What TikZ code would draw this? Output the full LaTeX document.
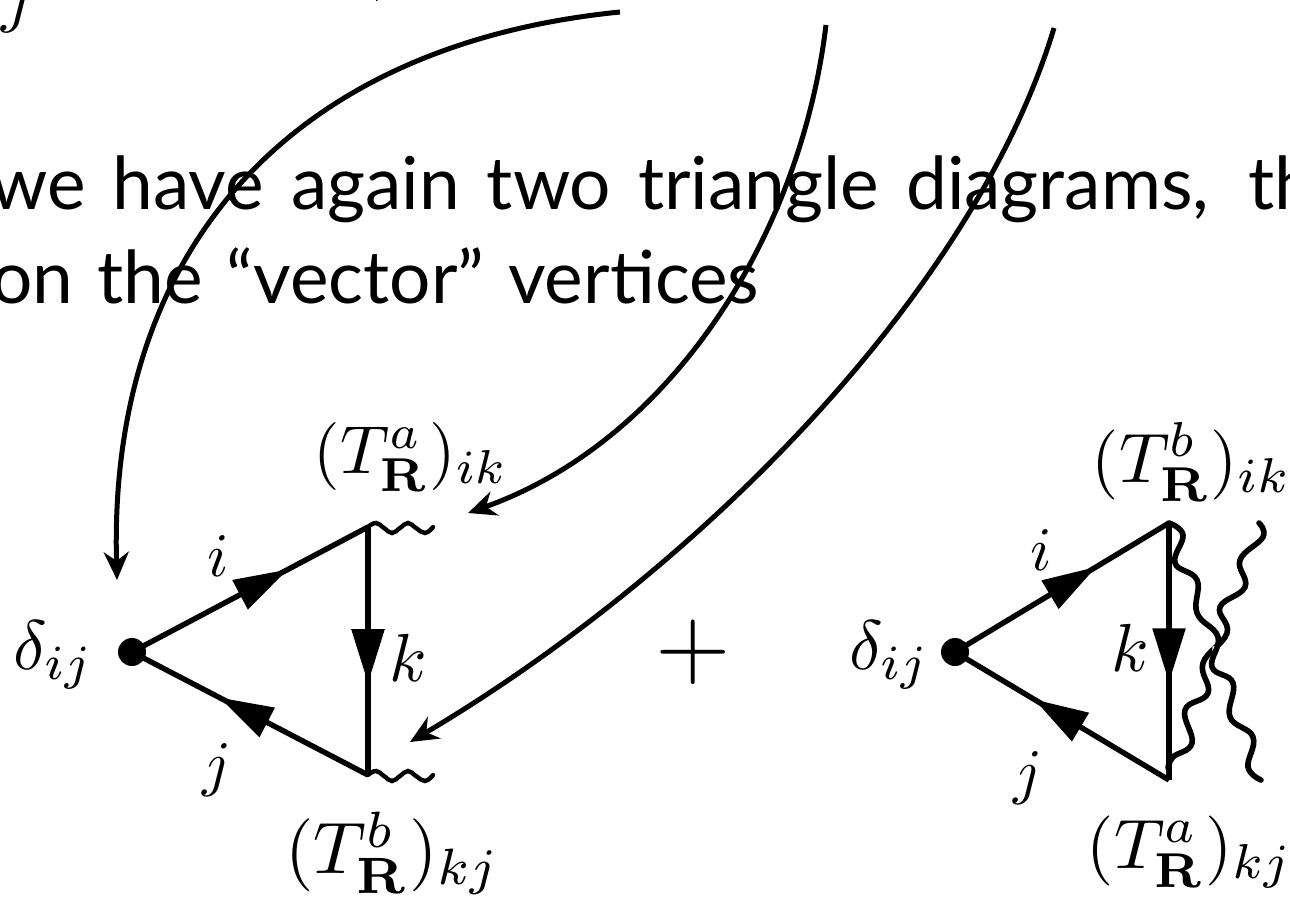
\documentclass[tikz,border=0pt]{standalone}
\usepackage[no-math]{fontspec}
\usepackage{amsmath}
\setmainfont{Lato}
\usetikzlibrary{arrows.meta,decorations.markings}
\tikzset{
 x=1pt,y=-1pt,
 edgeline/.style={line width=5.4pt,line join=round},
 wavyline/.style={line width=4.4pt,line cap=round},
 wavybig/.style={line width=5.6pt,line cap=round},
 pointer/.style={line width=5pt,-{Stealth[length=28pt,width=25pt,inset=9pt]}},
 flowhead/.style={postaction={decorate,decoration={markings,mark=at position #1 with {\arrow{Triangle[length=54pt,width=32pt]}}}}},
 lab/.style={inner sep=0pt,transform shape,scale=#1},
 bodytext/.style={inner sep=0pt,anchor=base west,font=\fontsize{73}{90}\selectfont}
}
\begin{document}
\begin{tikzpicture}
\useasboundingbox (0,0) rectangle (1290,901);
\clip (0,0) rectangle (1290,901);
% text
\node[bodytext] (line1) at (-10,210) {\spaceskip=27pt we have again two triangle diagrams,\hspace{12pt} the};
\node[bodytext] (line2) at (-9,303) {\spaceskip=24pt on the “vector” vertices};
\node[lab=6.8,anchor=base] (topj) at (17,20) {$j$};
\node[lab=6.8,anchor=base] (topc) at (379,-11) {$,$};
% coordinates
\node[circle,fill=black,inner sep=0pt,minimum size=28pt] (dl) at (132,652) {};
\coordinate (tl) at (368,527);
\coordinate (bl) at (368,775);
\node[circle,fill=black,inner sep=0pt,minimum size=28pt] (dr) at (955,652) {};
\coordinate (tr) at (1169,523);
\coordinate (br) at (1169,780);
% left triangle
\draw[edgeline,flowhead=0.66] (dl.center) -- (tl);
\draw[edgeline,flowhead=0.63] (tl) -- (bl);
\draw[edgeline,flowhead=0.63] (bl) -- (dl.center);
\draw[wavyline] plot[smooth,tension=0.8] coordinates {(368,527) (376,523) (384,528) (392,533) (400,528) (408,523) (416,528) (425,533) (433,527)};
\draw[wavyline] plot[smooth,tension=0.8] coordinates {(368,775) (376,771) (384,776) (392,781) (400,776) (408,771) (416,776) (425,781) (433,775)};
% right triangle
\draw[edgeline,flowhead=0.66] (dr.center) -- (tr);
\draw[edgeline,flowhead=0.62] (tr) -- (br);
\draw[edgeline,flowhead=0.63] (br) -- (dr.center);
\draw[wavybig] plot[smooth,tension=0.7] coordinates {(1259,523) (1263,537) (1240,560) (1245,587) (1220,607) (1227,633) (1203,663) (1208,693) (1185,710) (1192,743) (1173,757) (1168,768)};
\draw[white,line width=7.5pt] plot[smooth,tension=0.7] coordinates {(1216,646) (1216,654) (1213,662)};
\draw[wavybig] plot[smooth,tension=0.7] coordinates {(1169,523) (1183,535) (1175,563) (1197,580) (1197,613) (1218,637) (1212,667) (1233,683) (1230,717) (1253,737) (1248,767) (1261,780)};
% curved pointers
\coordinate (p1s) at (620,12);
\coordinate (p1e) at (117,580);
\coordinate (p2s) at (826,25);
\coordinate (p2e) at (468,513);
\coordinate (p3s) at (1054,28);
\coordinate (p3e) at (410,742);
\draw[pointer] (p1s) .. controls (290,45) and (108,250) .. (p1e);
\draw[pointer] (p2s) .. controls (800,240) and (668,442) .. (p2e);
\draw[pointer] (p3s) .. controls (975,290) and (700,570) .. (p3e);
% labels
\node[lab=7] (dlab1) at (54,655) {$\delta_{ij}$};
\node[lab=6.2] (il) at (218,556) {$i$};
\node[lab=6.2] (jl) at (217,770) {$j$};
\node[lab=6.8] (kl) at (408,658) {$k$};
\node[lab=6.8] (tal) at (411,457) {$(T^a_{\mathbf{R}})_{ik}$};
\node[lab=7.3] (tbl) at (393,853) {$(T^b_{\mathbf{R}})_{kj}$};
\node[lab=9.7] (plus) at (693,652) {$+$};
\node[lab=7] (dlab2) at (890,655) {$\delta_{ij}$};
\node[lab=6.2] (ir) at (1041,550) {$i$};
\node[lab=6.2] (jr) at (1028,778) {$j$};
\node[lab=6.8] (kr) at (1130,648) {$k$};
\node[lab=7] (tbr) at (1192,462) {$(T^b_{\mathbf{R}})_{ik}$};
\node[lab=7] (tar) at (1190,852) {$(T^a_{\mathbf{R}})_{kj}$};
\end{tikzpicture}
\end{document}
